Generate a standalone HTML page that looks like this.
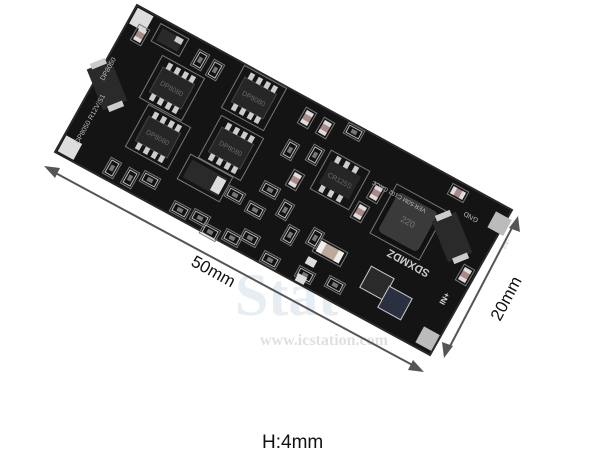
<!DOCTYPE html>
<html><head><meta charset="utf-8"><style>
html,body{margin:0;padding:0;background:#fff;}
svg{display:block;font-family:"Liberation Sans",sans-serif;}
</style></head><body>
<svg width="600" height="450" viewBox="0 0 600 450" xmlns="http://www.w3.org/2000/svg">
<defs>
<g id="chip"><rect x="-24" y="-24" width="48" height="48" fill="none" stroke="#777" stroke-width="1"/><rect x="-18" y="-14" width="36" height="28" fill="#262626" stroke="#444"/>
<rect x="-15" y="-21" width="5" height="7" fill="#ccc"/><rect x="-6" y="-21" width="5" height="7" fill="#ccc"/><rect x="3" y="-21" width="5" height="7" fill="#ccc"/><rect x="11" y="-21" width="5" height="7" fill="#ccc"/>
<rect x="-15" y="14" width="5" height="7" fill="#ccc"/><rect x="-6" y="14" width="5" height="7" fill="#ccc"/><rect x="3" y="14" width="5" height="7" fill="#ccc"/><rect x="11" y="14" width="5" height="7" fill="#ccc"/>
<text x="0" y="3" font-size="7" fill="#666" text-anchor="middle">DP8080</text></g>
<g id="cap"><rect x="-9" y="-6" width="18" height="12" fill="none" stroke="#777"/><rect x="-7" y="-4" width="14" height="8" fill="#a88"/><rect x="-7" y="-4" width="4" height="8" fill="#ddd"/><rect x="3" y="-4" width="4" height="8" fill="#ddd"/></g>
<g id="res"><rect x="-9" y="-6" width="18" height="12" fill="none" stroke="#777"/><rect x="-7" y="-4" width="14" height="8" fill="#111" stroke="#bbb" stroke-width="1"/><rect x="-3" y="-2" width="6" height="4" fill="#777"/></g>
</defs>
<text x="235" y="315" font-size="60" font-family="Liberation Serif" fill="#e6eef3" font-weight="bold">Stat</text>
<!-- board -->
<polygon points="137,5 512,210 430,355 55,152" fill="#141414"/>
<polygon points="137,5 512,210 430,355 55,152" fill="none" stroke="#2a2a2a" stroke-width="2"/>
<g transform="translate(137,5) rotate(28.7)"><rect x="2" y="2" width="18" height="18" fill="#ddd"/></g>
<g transform="translate(55,152) rotate(28.7)"><rect x="2" y="-20" width="18" height="18" fill="#ddd"/></g>
<g transform="translate(500,225) rotate(28.7)"><rect x="-10" y="-10" width="18" height="18" fill="#bbb"/></g>
<g transform="translate(428,340) rotate(28.7)"><rect x="-10" y="-10" width="18" height="18" fill="#bbb"/></g>
<use href="#chip" transform="translate(172,88) rotate(28.7)"/>
<use href="#chip" transform="translate(254,98) rotate(28.7)"/>
<use href="#chip" transform="translate(158,137) rotate(28.7)"/>
<use href="#chip" transform="translate(231,148) rotate(28.7)"/>
<g transform="translate(340,180) rotate(28.7)"><rect x="-22" y="-22" width="44" height="44" fill="none" stroke="#777"/><rect x="-17" y="-13" width="34" height="26" fill="#262626"/><rect x="-14" y="-20" width="5" height="7" fill="#ccc"/><rect x="-4" y="-20" width="5" height="7" fill="#ccc"/><rect x="6" y="-20" width="5" height="7" fill="#ccc"/><rect x="-14" y="13" width="5" height="7" fill="#ccc"/><rect x="-4" y="13" width="5" height="7" fill="#ccc"/><rect x="6" y="13" width="5" height="7" fill="#ccc"/><text x="0" y="3" font-size="7" fill="#666" text-anchor="middle">CR125S</text></g>
<g transform="translate(408,222) rotate(28.7)"><rect x="-28" y="-28" width="56" height="56" fill="none" stroke="#777"/><rect x="-24" y="-24" width="48" height="48" rx="6" fill="#3a3a3a" stroke="#111" stroke-width="3"/><text x="0" y="3" font-size="9" fill="#777" text-anchor="middle">220</text></g>
<g transform="translate(107,85) rotate(68)"><rect x="-22" y="-13" width="44" height="26" fill="#2a2a2a"/><rect x="-26" y="-8" width="6" height="16" fill="#ccc"/><rect x="20" y="-8" width="6" height="16" fill="#ccc"/></g>
<g transform="translate(452,237) rotate(68)"><rect x="-22" y="-13" width="44" height="26" fill="#2a2a2a"/><rect x="-26" y="-8" width="6" height="16" fill="#ccc"/><rect x="20" y="-8" width="6" height="16" fill="#ccc"/></g>
<g transform="translate(205,178) rotate(28.7)"><rect x="-24" y="-14" width="48" height="28" fill="none" stroke="#777"/><rect x="-20" y="-10" width="40" height="20" fill="#2a2a2a"/><rect x="10" y="-8" width="10" height="16" fill="#ddd"/></g>
<g transform="translate(170,40) rotate(28.7)"><rect x="-16" y="-10" width="32" height="20" fill="none" stroke="#777"/><rect x="-12" y="-7" width="24" height="14" fill="#2a2a2a"/><rect x="4" y="-7" width="8" height="6" fill="#ccc"/></g>
<g transform="translate(377,283) rotate(28.7)"><rect x="-13" y="-12" width="26" height="24" fill="#2a2a2a" stroke="#ccc"/></g>
<g transform="translate(395,303) rotate(28.7)"><rect x="-13" y="-12" width="26" height="24" fill="#2a3040" stroke="#ccc"/></g>
<g transform="translate(330,252) rotate(28.7)"><rect x="-16" y="-8" width="32" height="16" fill="none" stroke="#777"/><rect x="-13" y="-6" width="26" height="12" fill="#ba9"/><rect x="-13" y="-6" width="6" height="12" fill="#eee"/><rect x="7" y="-6" width="6" height="12" fill="#eee"/></g>
<use href="#cap" transform="translate(140,35) rotate(-60)"/>
<use href="#cap" transform="translate(307,118) rotate(-60)"/>
<use href="#cap" transform="translate(325,128) rotate(-60)"/>
<use href="#cap" transform="translate(295,180) rotate(-60)"/>
<use href="#cap" transform="translate(376,193) rotate(-60)"/>
<use href="#cap" transform="translate(360,212) rotate(-60)"/>
<use href="#cap" transform="translate(458,193) rotate(28.7)"/>
<use href="#cap" transform="translate(465,275) rotate(-60)"/>
<use href="#res" transform="translate(215,70) rotate(-60)"/>
<use href="#res" transform="translate(200,60) rotate(-60)"/>
<use href="#res" transform="translate(290,150) rotate(-60)"/>
<use href="#res" transform="translate(315,155) rotate(-60)"/>
<use href="#res" transform="translate(354,132) rotate(28.7)"/>
<use href="#res" transform="translate(112,168) rotate(-60)"/>
<use href="#res" transform="translate(130,178) rotate(-60)"/>
<use href="#res" transform="translate(180,210) rotate(28.7)"/>
<use href="#res" transform="translate(200,218) rotate(28.7)"/>
<use href="#res" transform="translate(210,232) rotate(28.7)"/>
<use href="#res" transform="translate(250,238) rotate(28.7)"/>
<use href="#res" transform="translate(270,260) rotate(28.7)"/>
<use href="#res" transform="translate(290,235) rotate(-60)"/>
<use href="#res" transform="translate(305,275) rotate(28.7)"/>
<use href="#res" transform="translate(335,285) rotate(28.7)"/>
<use href="#res" transform="translate(235,195) rotate(28.7)"/>
<use href="#res" transform="translate(255,210) rotate(28.7)"/>
<use href="#res" transform="translate(270,190) rotate(28.7)"/>
<use href="#res" transform="translate(285,210) rotate(-60)"/>
<use href="#res" transform="translate(315,238) rotate(-60)"/>
<use href="#res" transform="translate(232,238) rotate(28.7)"/>
<use href="#res" transform="translate(150,180) rotate(28.7)"/>
<rect x="306" y="258" width="10" height="8" fill="#ddd" transform="rotate(28.7 311 262)"/>
<rect x="296" y="275" width="10" height="8" fill="#ddd" transform="rotate(28.7 301 279)"/>
<text transform="translate(410,260) rotate(208.7)" font-size="11" fill="#ccc" text-anchor="middle" font-weight="bold">SDXMDZ</text>
<text transform="translate(400,195) rotate(208.7)" font-size="6" fill="#bbb" text-anchor="middle">VER:50M C102 CRCC</text>
<text transform="translate(110,70) rotate(-61)" font-size="7" fill="#bbb" text-anchor="middle">DP8050</text>
<text transform="translate(92,120) rotate(-61)" font-size="7" fill="#bbb" text-anchor="middle">DP8050 R12V/S1</text>
<text transform="translate(472,215) rotate(208.7)" font-size="7" fill="#bbb" text-anchor="middle">GND</text>
<text transform="translate(508,245) rotate(-61)" font-size="8" fill="#ddd" text-anchor="middle" font-weight="bold">IN-</text>
<text transform="translate(447,300) rotate(-61)" font-size="8" fill="#ddd" text-anchor="middle" font-weight="bold">IN+</text>
<text x="260" y="345" font-size="16" font-family="Liberation Serif" fill="#e0e0e0" font-weight="bold">www.icstation.com</text>
<g stroke="#555" stroke-width="2" fill="#555">
<line x1="50" y1="170" x2="418" y2="368"/>
<polygon points="44,166 60,168 55,178" stroke="none"/>
<polygon points="424,372 408,370 413,360" stroke="none"/>
<line x1="515" y1="222" x2="447" y2="352"/>
<polygon points="518,216 520,232 509,228" stroke="none"/>
<polygon points="444,358 442,342 453,346" stroke="none"/>
</g>
<text transform="translate(190,265) rotate(28.7)" font-size="17" fill="#111">50mm</text>
<text transform="translate(500,322) rotate(-62)" font-size="17" fill="#111">20mm</text>
<text x="262" y="448" font-size="19" fill="#111">H:4mm</text>
</svg>
</body></html>
